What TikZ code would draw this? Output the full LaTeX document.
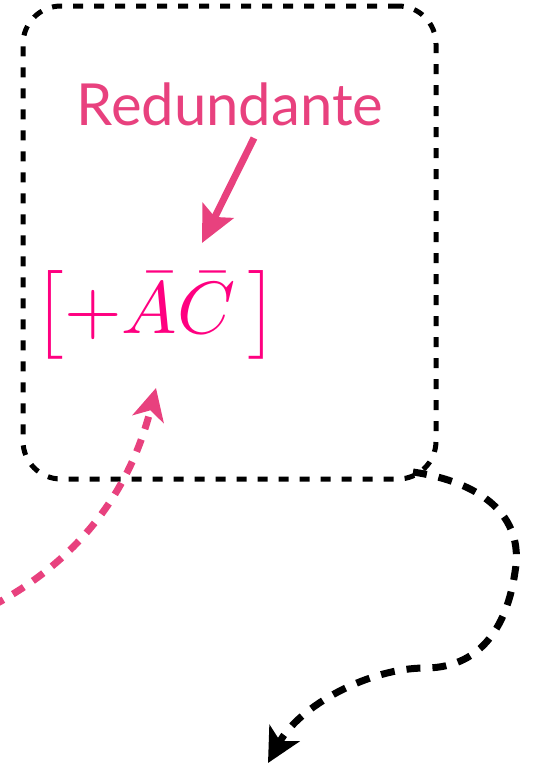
\documentclass[tikz,border=0pt]{standalone}
\usepackage{fontspec}
\newfontfamily\labelfont{Lato}
\usetikzlibrary{arrows.meta}
\definecolor{rosa}{HTML}{E8417E}
\definecolor{magent}{HTML}{FF0080}
\tikzset{
  boxstyle/.style={draw=black, line width=5pt, dash pattern=on 10pt off 11pt, rounded corners=38pt, minimum width=413pt, minimum height=473pt, inner sep=0pt},
  pinkflow/.style={draw=rosa, line width=7pt, dash pattern=on 13pt off 11pt, -{Stealth[length=32pt,width=32pt,inset=9pt]}},
  blackflow/.style={draw=black, line width=7pt, dash pattern=on 14pt off 12pt, -{Stealth[length=34pt,width=34pt,inset=9pt]}},
  pinkarrow/.style={draw=rosa, line width=7pt, -{Stealth[length=36pt,width=34pt,inset=7pt]}},
}
\begin{document}
\begin{tikzpicture}[x=1pt,y=-1pt]
\useasboundingbox (0,0) rectangle (533,769);
\node[boxstyle] (box) at (229.5,242.5) {};
\node[text=rosa, font=\labelfont\fontsize{58}{64}\selectfont, anchor=base] (red) at (230,125) {Redundante};
\node[text=magent, scale=7.4, inner sep=0pt, anchor=base] (math) at (156,333) {$\big[{+}\bar{A}\bar{C}\,\big]$};
\coordinate (rstart) at (254,138);
\coordinate (rend) at (202,243);
\draw[pinkarrow] (rstart) -- (rend);
\coordinate (pstart) at (-8,606);
\coordinate (ptip) at (156,388);
\draw[pinkflow] (pstart) .. controls (60,570) and (125,510) .. (ptip);
\coordinate (bstart) at (413,472);
\coordinate (btip) at (268,763);
\draw[blackflow] (bstart) .. controls (480,482) and (525,515) .. (515,572)
  .. controls (505,640) and (470,668) .. (425,668)
  .. controls (370,668) and (300,705) .. (btip);
\end{tikzpicture}
\end{document}
